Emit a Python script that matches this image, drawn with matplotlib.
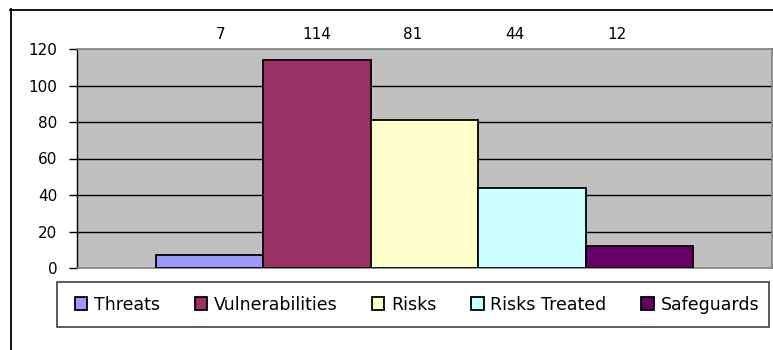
import matplotlib
matplotlib.use("Agg")
import matplotlib.pyplot as plt
from matplotlib.patches import Rectangle
from matplotlib.lines import Line2D

categories = ["Threats", "Vulnerabilities", "Risks", "Risks Treated", "Safeguards"]
values = [7, 114, 81, 44, 12]
colors = ["#9999FF", "#993366", "#FFFFCC", "#CCFFFF", "#660066"]
yticks = [0, 20, 40, 60, 80, 100, 120]

# horizontal nudges of the value labels (in bar widths)
label_dx = [0.10, 0.0, -0.11, -0.16, -0.21]

W, H = 773, 350
fig = plt.figure(figsize=(W / 100, H / 100), dpi=100)
plt.rcParams["font.family"] = ["DejaVu Sans"]

def fx(px):
    return px / W

def fy(py):
    return 1 - py / H

ax = fig.add_axes([fx(77), fy(268), fx(772) - fx(77), fy(49) - fy(268)])
ax.set_facecolor("#C0C0C0")

xs = list(range(len(values)))
ax.bar(xs, values, width=1.0, color=colors, edgecolor="black", linewidth=1.3,
       zorder=3)

ax.set_xlim(-1.235, len(values) - 0.5 + 0.735)
ax.set_ylim(0, 120)
ax.set_yticks(yticks)
ax.set_yticklabels([str(t) for t in yticks], fontsize=11)
ax.set_xticks([])
ax.tick_params(axis="y", direction="out", length=6, width=1, pad=8, colors="black")

for g in yticks[1:-1]:
    ax.axhline(g, color="black", linewidth=1, zorder=1)

for side in ["top", "right", "bottom"]:
    ax.spines[side].set_color("#808080")
    ax.spines[side].set_linewidth(1.2)
ax.spines["left"].set_color("black")
ax.spines["left"].set_linewidth(1)

for x, v, dx in zip(xs, values, label_dx):
    ax.text(x + dx, 1.068, str(v), transform=ax.get_xaxis_transform(),
            ha="center", va="center", fontsize=11, color="black")

# legend frame and entries
fig.patches.append(Rectangle((fx(57), fy(327)), fx(769) - fx(57), fy(282) - fy(327),
                             transform=fig.transFigure, facecolor="white",
                             edgecolor="#404040", linewidth=1.2, zorder=1))
handles = [Rectangle((0, 0), 1, 1, facecolor=c, edgecolor="black", linewidth=1.3)
           for c in colors]
fig.legend(handles, categories, loc="center",
           bbox_to_anchor=(fx(417), fy(304.5)), ncol=5, frameon=False,
           fontsize=12.5, handlelength=0.7, handleheight=0.7,
           handletextpad=0.4, columnspacing=2.0, borderpad=0)

# outer chart border
fig.add_artist(Line2D([fx(10.5), fx(10.5)], [fy(9), -0.05], transform=fig.transFigure,
                      color="black", linewidth=1.3))
fig.add_artist(Line2D([fx(10), 1.05], [fy(9.5), fy(9.5)], transform=fig.transFigure,
                      color="black", linewidth=1.3))

fig.savefig("out.png", dpi=100)
